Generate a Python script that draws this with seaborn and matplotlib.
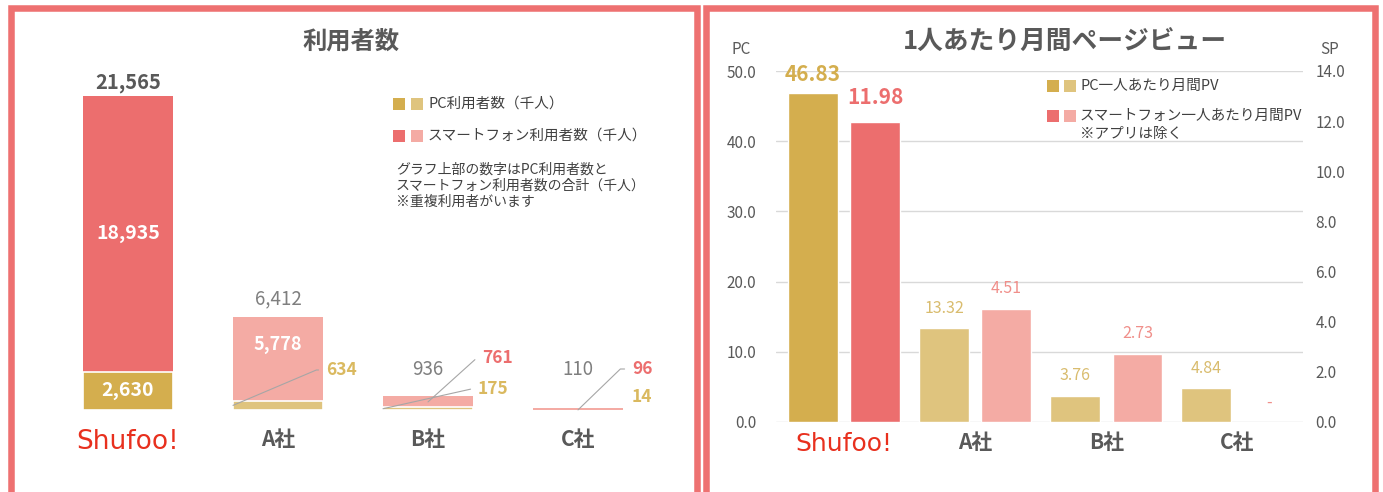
import numpy as np
import pandas as pd
import seaborn as sns
import matplotlib.pyplot as plt
from matplotlib.patches import Rectangle

# 利用者数（千人）
companies = ["Shufoo!", "A社", "B社", "C社"]
pc_users = [2630, 634, 175, 14]
sp_users = [18935, 5778, 761, 96]
total_users = [21565, 6412, 936, 110]

# 1人あたり月間PV  (C社のSPは "-")
pc_pv = [46.83, 13.32, 3.76, 4.84]
sp_pv = [11.98, 4.51, 2.73, np.nan]

pc_ticks = [0, 10, 20, 30, 40, 50]
sp_ticks = [0, 2, 4, 6, 8, 10, 12, 14]

PC_DARK, PC_LIGHT = "#D4AE4E", "#DFC47E"
SP_DARK, SP_LIGHT = "#EC6E6E", "#F4ABA4"
BORDER = "#EE7171"
TEXT = "#595959"
GRAY = "#7F7F7F"
LOGO = "#E8301E"

sns.set_style("white")
plt.rcParams["font.family"] = ["Noto Sans CJK JP", "DejaVu Sans"]

W, H = 1383, 492
fig = plt.figure(figsize=(W / 100, H / 100), dpi=100)


def fx(x):
    return x / W


def fy(y):
    return 1 - y / H


# panel frames
for x0, x1 in [(8, 700), (703, 1378)]:
    fig.add_artist(Rectangle((fx(x0 + 3.25), fy(560)), (x1 - x0 - 6.5) / W, (560 - 8.25) / H,
                             transform=fig.transFigure, fill=False, ec=BORDER, lw=4.7))

# ---------------- left: 利用者数 ----------------
users = pd.DataFrame({"company": companies, "pc": pc_users, "sp": sp_users, "total": total_users})

axL = fig.add_axes([fx(38), fy(410), 630 / W, 349.4 / H])
sns.barplot(data=users, x="company", y="total", color=SP_LIGHT, width=0.6, saturation=1,
            errorbar=None, linewidth=0, ax=axL)
sns.barplot(data=users, x="company", y="pc", color=PC_LIGHT, width=0.6, saturation=1,
            errorbar=None, edgecolor="white", linewidth=1.2, ax=axL)
axL.containers[0][0].set_facecolor(SP_DARK)
axL.containers[1][0].set_facecolor(PC_DARK)
for bar, v in zip(axL.containers[1], pc_users):
    if v < 100:
        bar.set_linewidth(0)

axL.set_xlim(-0.6, 3.6)
axL.set_ylim(0, 24000)
axL.set_yticks([])
axL.set_xlabel("")
axL.set_ylabel("")
sns.despine(ax=axL, left=True, bottom=True)
axL.set_xticks(range(4))
axL.set_xticklabels(companies)
axL.tick_params(axis="x", length=0, pad=14, labelsize=15, labelcolor=TEXT)
for lab in axL.get_xticklabels():
    lab.set_fontweight("bold")
logoL = axL.get_xticklabels()[0]
logoL.set_color(LOGO)
logoL.set_fontweight("normal")
logoL.set_fontfamily(["DejaVu Sans"])
logoL.set_fontsize(19)

# totals on top
total_offset = [14, 18, 27, 39]
for i, (t, off) in enumerate(zip(total_users, total_offset)):
    axL.annotate(f"{t:,}", (i, t), xytext=(0, off), textcoords="offset pixels",
                 ha="center", va="center", fontsize=14.5 if i == 0 else 13.5,
                 fontweight="bold" if i == 0 else "normal", color=TEXT if i == 0 else GRAY)

# inside labels
axL.annotate(f"{sp_users[0]:,}", (0, pc_users[0] + sp_users[0] / 2), ha="center", va="center",
             fontsize=14, fontweight="bold", color="white")
axL.annotate(f"{pc_users[0]:,}", (0, pc_users[0] / 2), ha="center", va="center",
             fontsize=14, fontweight="bold", color="white")
axL.annotate(f"{sp_users[1]:,}", (1, pc_users[1] + sp_users[1] / 2), xytext=(0, 14),
             textcoords="offset pixels", ha="center", va="center",
             fontsize=13, fontweight="bold", color="white")

# leader-line labels: (text, anchor, text px position, line angle, colour)
leaders = [
    (f"{pc_users[1]:,}", (1 - 0.3, pc_users[1] / 2), (326, 370), 23, "#DAB95F"),
    (f"{sp_users[2]:,}", (2, pc_users[2] + sp_users[2] / 2), (482, 358), 42, SP_DARK),
    (f"{pc_users[2]:,}", (2 - 0.3, pc_users[2] / 2), (478, 389), 12.6, "#DAB95F"),
    (f"{sp_users[3]:,}", (3, pc_users[3] / 2), (632, 369), 44, SP_DARK),
]
for txt, xy, (tx, ty), ang, col in leaders:
    axL.annotate(txt, xy, xytext=(tx, H - ty), textcoords="figure pixels",
                 ha="left", va="center", fontsize=12.5, fontweight="bold", color=col,
                 arrowprops=dict(arrowstyle="-", color="#A6A6A6", lw=0.8, relpos=(0, 0.5),
                                 shrinkA=3, shrinkB=0,
                                 connectionstyle=f"angle,angleA=0,angleB={ang},rad=0"))
fig.text(fx(632), fy(397), f"{pc_users[3]:,}", ha="left", va="center", fontsize=12.5,
         fontweight="bold", color="#DAB95F")

fig.text(fx(351), fy(42), "利用者数", ha="center", va="center", fontsize=17.5,
         fontweight="bold", color=TEXT)

# legend + note
for (yy, c1, c2, lab) in [(104, PC_DARK, PC_LIGHT, "PC利用者数（千人）"),
                          (136, SP_DARK, SP_LIGHT, "スマートフォン利用者数（千人）")]:
    for xx, c in [(393, c1), (411, c2)]:
        fig.add_artist(Rectangle((fx(xx), fy(yy + 6)), 12 / W, 12 / H,
                                 transform=fig.transFigure, fc=c, ec="none"))
    fig.text(fx(428), fy(yy), lab, ha="left", va="center", fontsize=10.5, color="#404040")
fig.text(fx(396), fy(163), "グラフ上部の数字はPC利用者数と\nスマートフォン利用者数の合計（千人）\n※重複利用者がいます",
         ha="left", va="top", fontsize=10, color="#404040", linespacing=1.15)

# ---------------- right: 1人あたり月間PV ----------------
pv = pd.DataFrame({
    "company": companies * 2,
    "kind": ["PC"] * 4 + ["SP"] * 4,
    "pc": pc_pv + [np.nan] * 4,
    "sp": [np.nan] * 4 + sp_pv,
})

axR = fig.add_axes([fx(776), fy(422), 527 / W, 351 / H])
axR2 = axR.twinx()
sns.barplot(data=pv, x="company", y="pc", hue="kind", order=companies, hue_order=["PC", "SP"],
            palette=[PC_LIGHT, SP_LIGHT], width=0.95, gap=0.2, saturation=1, errorbar=None,
            legend=False, ax=axR)
sns.barplot(data=pv, x="company", y="sp", hue="kind", order=companies, hue_order=["PC", "SP"],
            palette=[PC_LIGHT, SP_LIGHT], width=0.95, gap=0.2, saturation=1, errorbar=None,
            legend=False, ax=axR2)
for p in axR.patches:
    if round(p.get_x() + p.get_width() / 2) == 0:
        p.set_facecolor(PC_DARK)
for p in axR2.patches:
    if round(p.get_x() + p.get_width() / 2) == 0:
        p.set_facecolor(SP_DARK)

axR.set_xlim(-0.52, 3.5)
axR.set_ylim(0, 50)
axR2.set_ylim(0, 14)
axR.set_yticks(pc_ticks)
axR.set_yticklabels([f"{v:.1f}" for v in pc_ticks])
axR2.set_yticks(sp_ticks)
axR2.set_yticklabels([f"{v:.1f}" for v in sp_ticks])
axR.set_axisbelow(True)
axR.yaxis.grid(True, color="#D9D9D9", lw=1)
axR2.grid(False)
for a in (axR, axR2):
    a.set_xlabel("")
    a.set_ylabel("")
    for s in a.spines.values():
        s.set_visible(False)
axR.tick_params(axis="y", length=0, pad=14, labelsize=11, labelcolor=TEXT)
axR2.tick_params(axis="y", length=0, pad=9, labelsize=11, labelcolor=TEXT)
axR.set_xticks(range(4))
axR.set_xticklabels(companies)
axR.tick_params(axis="x", length=0, pad=7, labelsize=15, labelcolor=TEXT)
for lab in axR.get_xticklabels():
    lab.set_fontweight("bold")
logoR = axR.get_xticklabels()[0]
logoR.set_color(LOGO)
logoR.set_fontweight("normal")
logoR.set_fontfamily(["DejaVu Sans"])
logoR.set_fontsize(18)

# value labels
for i, v in enumerate(pc_pv):
    big = i == 0
    axR.annotate(f"{v:.2f}", (i - 0.2375, v), xytext=(0, 19 if big else 20), textcoords="offset pixels",
                 ha="center", va="center", fontsize=15 if big else 11.5,
                 fontweight="bold" if big else "normal", color=PC_DARK if big else "#D9BC6E")
for i, v in enumerate(sp_pv):
    big = i == 0
    txt = "-" if np.isnan(v) else f"{v:.2f}"
    yv = 0 if np.isnan(v) else v
    axR2.annotate(txt, (i + 0.2375, yv), xytext=(0, 24 if big else 20), textcoords="offset pixels",
                  ha="center", va="center", fontsize=15 if big else 11.5,
                  fontweight="bold" if big else "normal", color=SP_DARK if big else "#F08F8A")

fig.text(fx(741), fy(50), "PC", ha="center", va="center", fontsize=11, color=TEXT)
fig.text(fx(1330), fy(50), "SP", ha="center", va="center", fontsize=11, color=TEXT)
fig.text(fx(1065), fy(42), "1人あたり月間ページビュー", ha="center", va="center", fontsize=18.5,
         fontweight="bold", color=TEXT)

for (yy, c1, c2, lab) in [(86, PC_DARK, PC_LIGHT, "PC一人あたり月間PV"),
                          (116, SP_DARK, SP_LIGHT, "スマートフォン一人あたり月間PV")]:
    for xx, c in [(1047, c1), (1064, c2)]:
        fig.add_artist(Rectangle((fx(xx), fy(yy + 6)), 12 / W, 12 / H,
                                 transform=fig.transFigure, fc=c, ec="none"))
    fig.text(fx(1080), fy(yy), lab, ha="left", va="center", fontsize=10.5, color="#404040")
fig.text(fx(1080), fy(134), "※アプリは除く", ha="left", va="center", fontsize=10.5, color="#404040")

fig.savefig("out.png", dpi=100, facecolor="white")
